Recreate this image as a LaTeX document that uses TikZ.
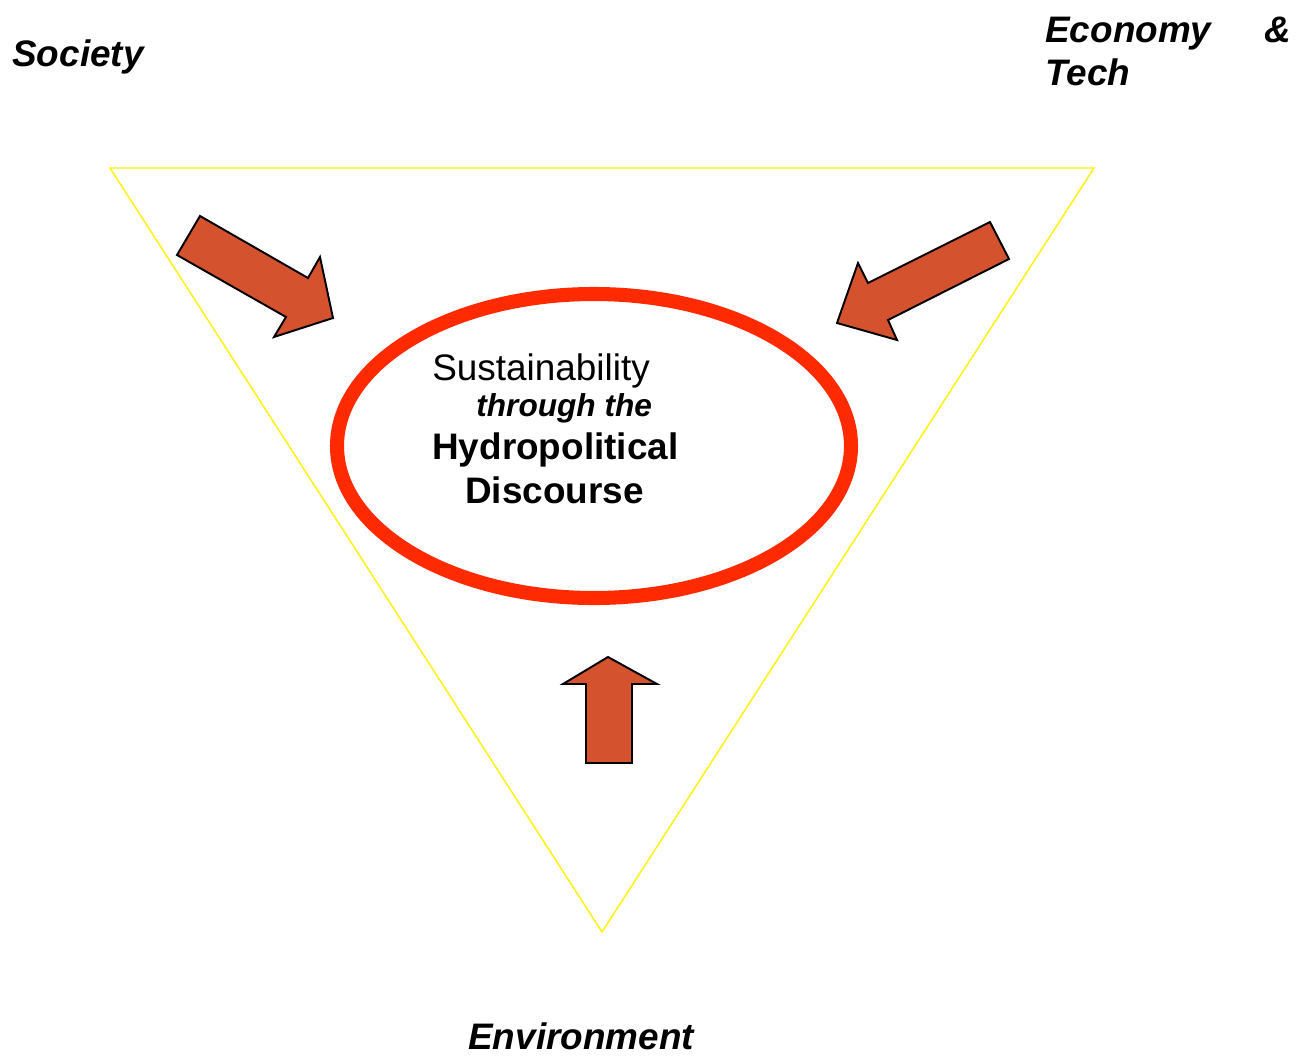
\documentclass[tikz,border=0pt]{standalone}
\usepackage{fontspec}
\setmainfont{Liberation Sans}
\usetikzlibrary{calc}
\definecolor{arrowfill}{RGB}{212,82,46}
\definecolor{ringred}{RGB}{255,42,0}
\tikzset{
  blockarr/.style={fill=arrowfill,draw=black,line width=1.1pt,line join=miter},
  corner/.style={font=\fontsize{21}{24.5}\selectfont\bfseries\itshape,inner sep=0pt,anchor=base west},
  inner/.style={font=\fontsize{21}{24.5}\selectfont,inner sep=0pt,anchor=base west}
}
\begin{document}
\begin{tikzpicture}[x=0.02cm,y=-0.02cm]
            \useasboundingbox (0,0) rectangle (1305,1055);
            % triangle and ring
            \draw[yellow,line width=0.8pt] (110,168) -- (1094,168) -- (602,932) -- cycle;
            \draw[ringred,line width=8pt] (594,446) ellipse [x radius=257,y radius=152];
            % block arrows
            \draw[blockarr] (200,216) -- (308,278) -- (320,257) -- (333,318)
                -- (274,337) -- (286,317) -- (177,255) -- cycle;
            \draw[blockarr] (990,222) -- (1009,259) -- (888,320) -- (897,340)
                -- (837,323) -- (858,263) -- (868,283) -- cycle;
            \draw[blockarr] (608,657) -- (657,684) -- (632,684) -- (632,763)
                -- (586,763) -- (586,684) -- (563,684) -- cycle;
            % corner labels
            \node[corner] (soc) at (12,66) {Society};
            \node[corner,anchor=north west,text width=4.92cm,align=justify]
                (eco) at (1045,17) {Economy \& Tech};
            \node[corner] (env) at (468,1049) {Environment};
            % text in the ring
            \node[inner] (sus) at (432,380) {Sustainability};
            \node[inner,font=\fontsize{18}{21}\selectfont\bfseries\itshape] (thr) at (476,416) {through the};
            \node[inner,font=\fontsize{21}{24.5}\selectfont\bfseries] (hyd) at (432,459) {Hydropolitical};
            \node[inner,font=\fontsize{21}{24.5}\selectfont\bfseries] (dis) at (465,503) {Discourse};
        \end{tikzpicture}
\end{document}
